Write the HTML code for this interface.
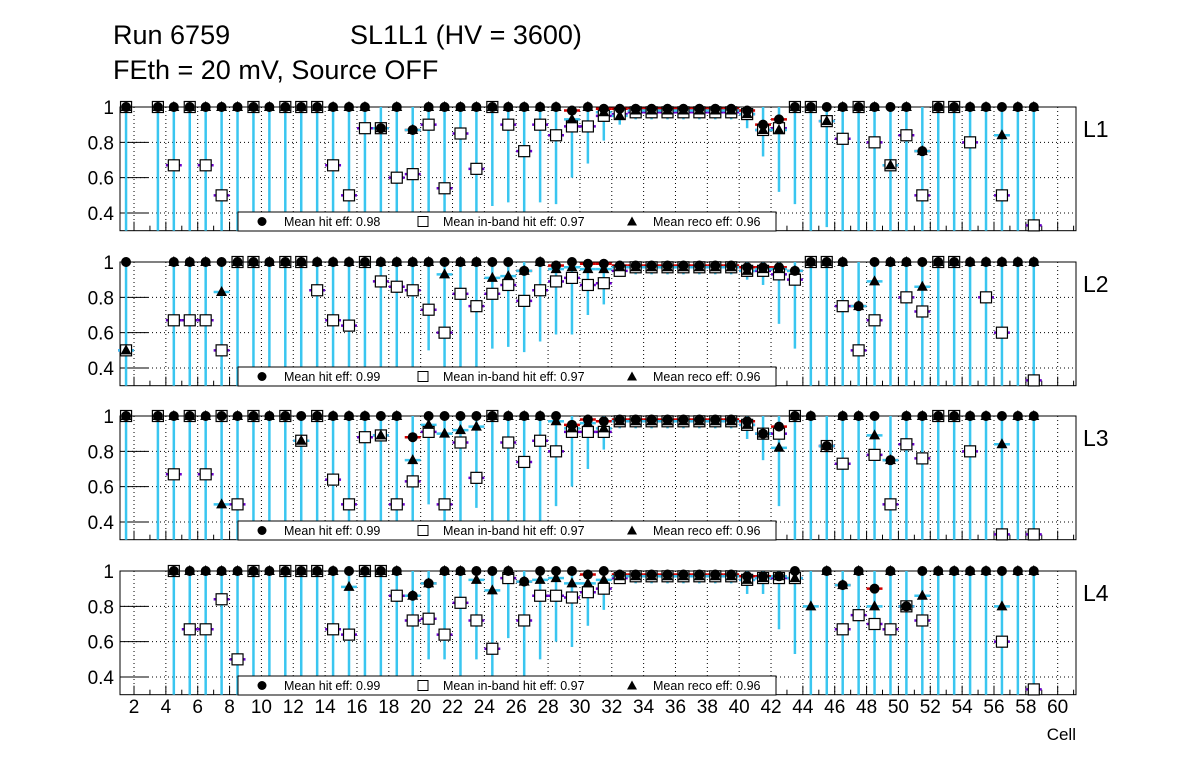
<!DOCTYPE html>
<html><head><meta charset="utf-8"><style>
body{margin:0;background:#fff;width:1196px;height:772px;overflow:hidden}
svg{display:block}
text{font-family:"Liberation Sans",sans-serif}
</style></head><body>
<svg id="c" width="1196" height="772" viewBox="0 0 1196 772">
<text x="113" y="44" font-size="27">Run 6759</text>
<text x="350" y="44" font-size="27">SL1L1 (HV = 3600)</text>
<text x="113" y="79" font-size="27">FEth = 20 mV, Source OFF</text>
<text x="1076" y="740" font-size="17" text-anchor="end">Cell</text>
</svg>
<script>
const panelNames=["L1","L2","L3","L4"];
const legendHit=["0.98","0.99","0.99","0.99"];
const legendInb=["0.97","0.97","0.97","0.97"];
const legendReco=["0.96","0.96","0.96","0.96"];
const xTicks=[2,4,6,8,10,12,14,16,18,20,22,24,26,28,30,32,34,36,38,40,42,44,46,48,50,52,54,56,58,60];
const yTicks=[1,0.8,0.6,0.4];
const yTickLabels=["1","0.8","0.6","0.4"];
const N=null;
const hit1=[1,N,1,1,1,1,1,1,1,1, 1,1,1,1,1,1,.88,1,.87,1, 1,1,1,1,1,1,1,1,.98,1, .99,.99,.99,.99,.99,.99,.99,.99,.99,.98, .9,.93,1,1,1,1,1,1,1,1, .75,1,1,1,1,1,1,1];
const inb1=[1,N,1,.67,1,.67,.5,N,1,N, 1,1,1,.67,.5,.88,.88,.6,.62,.9, .54,.85,.65,1,.9,.75,.9,.84,.89,.89, .95,.96,.97,.97,.97,.97,.97,.97,.97,.96, .87,.88,1,1,.92,.82,1,.8,.67,.84, .5,1,1,.8,N,.5,N,.33];
const reco1=[1,N,1,1,1,1,1,1,1,1, 1,1,1,1,1,1,.88,1,.87,1, 1,1,1,1,1,1,1,1,.93,1, .97,.95,.98,.98,.98,.98,.98,.98,.98,.96, .87,.87,1,1,.92,1,1,1,.67,1, .75,1,1,1,1,.84,1,1];
const lo1=[.3,N,.3,.3,.3,.3,.3,.3,.3,.3, .3,.3,.3,.3,.3,.3,.3,.3,.3,.3, .3,.3,.35,.44,.46,.3,.46,.45,.6,.68, .81,.9,.93,.93,.93,.93,.93,.93,.93,.88, .72,.52,.45,.3,.32,.3,.3,.3,.3,.3, .3,.3,.3,.3,.3,.3,.3,.3];
const hit2=[1,N,N,1,1,1,1,1,1,1, 1,1,1,1,1,1,1,1,1,1, 1,1,1,1,1,.95,1,.98,1,.99, .99,.98,.98,.98,.98,.98,.98,.98,.98,.97, .97,.97,.95,1,1,1,.75,1,1,1, 1,1,1,1,1,1,1,1];
const inb2=[.5,N,N,.67,.67,.67,.5,1,1,N, 1,1,.84,.67,.64,1,.89,.86,.84,.73, .6,.82,.75,.82,.87,.78,.84,.89,.91,.87, .88,.95,.97,.97,.97,.97,.97,.97,.97,.95, .95,.93,.9,1,1,.75,.5,.67,N,.8, .72,1,1,N,.8,.6,N,.33];
const reco2=[.5,N,N,1,1,1,.83,1,1,1, 1,1,1,1,1,1,1,1,1,1, .93,1,1,.91,.92,.95,1,.96,.97,.96, .96,.97,.97,.97,.97,.97,.97,.97,.97,.95, .96,.96,.95,1,1,1,.75,.89,1,1, .86,1,1,1,1,1,1,1];
const lo2=[.3,N,N,.3,.3,.3,.3,.3,.3,.3, .3,.3,.3,.3,.3,.3,.3,.3,.3,.5, .3,.3,.3,.51,.52,.49,.55,.59,.59,.7, .76,.93,.93,.93,.93,.93,.93,.93,.93,.9, .87,.65,.51,.3,.3,.3,.3,.3,.3,.3, .3,.3,.3,.3,.3,.3,.3,.3];
const hit3=[1,N,1,1,1,1,1,1,1,1, 1,1,1,1,1,1,1,1,.88,1, 1,1,1,1,1,1,1,1,.95,.98, .97,.98,.98,.98,.98,.98,.98,.98,.98,.97, .9,.94,1,1,.83,1,1,1,.75,1, 1,1,1,1,1,1,1,1];
const inb3=[1,N,1,.67,1,.67,1,.5,1,N, 1,.86,1,.64,.5,.88,.89,.5,.63,.91, .5,.85,.65,1,.85,.74,.86,.8,.91,.91, .91,.97,.97,.97,.97,.97,.97,.97,.97,.95, .9,.9,1,N,.83,.73,N,.78,.5,.84, .76,1,1,.8,N,.33,N,.33];
const reco3=[1,N,1,1,1,1,.5,1,1,1, 1,.86,1,1,1,1,.89,1,.75,.95, .9,.92,.94,1,1,1,1,.97,.93,.96, .93,.97,.97,.97,.97,.97,.97,.97,.97,.95, .9,.82,1,1,.83,1,1,.89,.75,1, 1,1,1,1,1,.84,1,1];
const lo3=[.3,N,.3,.3,.3,.3,.3,.3,.3,.3, .3,.3,.3,.3,.3,.3,.3,.3,.3,.5, .3,.3,.48,.3,.3,.3,.3,.49,.6,.7, .81,.93,.93,.93,.93,.93,.93,.93,.93,.87, .75,.49,.3,.3,.3,.3,.3,.3,.3,.3, .3,.3,.3,.3,.3,.3,.3,.3];
const hit4=[N,N,N,1,1,1,1,1,1,1, 1,1,1,1,1,1,1,1,.86,.93, 1,1,1,1,1,.94,1,1,1,.98, 1,.98,.98,.98,.98,.98,.98,.98,.98,.97, .97,.97,1,N,1,.92,1,.9,1,.8, 1,1,1,1,1,1,1,1];
const inb4=[N,N,N,1,.67,.67,.84,.5,1,N, 1,1,1,.67,.64,1,1,.86,.72,.73, .64,.82,.72,.56,.96,.72,.86,.86,.85,.88, .9,.96,.97,.97,.97,.97,.97,.97,.97,.95, .96,.96,.96,N,N,.67,.75,.7,.67,.8, .72,N,N,N,N,.6,N,.33];
const reco4=[N,N,N,1,1,1,1,1,1,1, 1,1,1,1,.91,1,1,1,.86,.93, 1,1,.95,.89,1,.94,.95,.96,.93,.93, .95,.97,.97,.97,.97,.97,.97,.97,.97,.95, .96,.97,.96,.8,1,.92,1,.8,1,.8, .86,1,1,1,1,.8,1,1];
const lo4=[N,N,N,.3,.3,.3,.3,.3,.3,.3, .3,.3,.3,.3,.3,.3,.3,.3,.3,.5, .5,.3,.5,.3,.62,.3,.5,.6,.57,.69, .78,.93,.93,.93,.93,.93,.93,.93,.93,.87, .87,.67,.53,.3,.3,.3,.3,.3,.3,.3, .3,.3,.3,.3,.3,.3,.3,.3];
const hits=[hit1,hit2,hit3,hit4], inbs=[inb1,inb2,inb3,inb4], recos=[reco1,reco2,reco3,reco4], los=[lo1,lo2,lo3,lo4];

const NS="http://www.w3.org/2000/svg";
const svg=document.getElementById('c');
const L=120,R=1076,X0=1.12,X1=61.15;
const panelTop=[107,262,416,571];
const BLUE="#3ac6f0",PURP="#6a00cc",RED="#d00000";
function xs(v){return L+(v-X0)/(X1-X0)*(R-L);}
function mk(tag,attrs,parent){const e=document.createElementNS(NS,tag);for(const k in attrs)e.setAttribute(k,attrs[k]);(parent||svg).appendChild(e);return e;}

panelNames.forEach((pn,p)=>{
  const top=panelTop[p];
  const ys=v=>top+(1-v)*176.7;
  const bot=ys(0.3);
  const g=mk('g',{});
  
  
  xTicks.forEach(t=>{const l=mk('line',{x1:xs(t),x2:xs(t),y1:top,y2:bot,stroke:'#000','stroke-width':1,'stroke-dasharray':'1,3'},g);
    });
  yTicks.forEach((t,i)=>{
    const l=mk('line',{x1:L,x2:R,y1:ys(t),y2:ys(t),stroke:'#000','stroke-width':1,'stroke-dasharray':'1,3'},g);
    
    const tk=mk('line',{x1:L,x2:L+28,y1:ys(t),y2:ys(t),stroke:'#000','stroke-width':1},g);
    
    const tx=mk('text',{x:L-6,y:ys(t)+7,'font-size':19,'text-anchor':'end'},g);tx.textContent=yTickLabels[i];
    
  });
  for(let t=2;t<=61;t++){const big=t%2===0;
    const tk=mk('line',{x1:xs(t),x2:xs(t),y1:bot,y2:bot-(big?9:5),stroke:'#000','stroke-width':1},g);
    }
  const fr=mk('rect',{x:L,y:top,width:R-L,height:bot-top,fill:'none',stroke:'#000','stroke-width':1},g);
  
  const hit=hits[p],inb=inbs[p],reco=recos[p],lo=los[p];
  const hw=(xs(2)-xs(1))*0.5;
  hit.forEach((h,i)=>{ if(lo[i]===null)return; const x=xs(i+1.5);
    const el=mk('line',{x1:x,x2:x,y1:ys(1),y2:ys(lo[i]),stroke:BLUE,'stroke-width':2.5},g);
    });
  hit.forEach((h,i)=>{const x=xs(i+1.5);
    if(h!==null&&h<1){const b=mk('line',{x1:x-hw,x2:x+hw,y1:ys(h),y2:ys(h),stroke:RED,'stroke-width':2.5},g);
      }
    if(inb[i]!==null&&inb[i]<1){const b=mk('line',{x1:x-hw,x2:x+hw,y1:ys(inb[i]),y2:ys(inb[i]),stroke:PURP,'stroke-width':2.5},g);
      }
    if(reco[i]!==null&&reco[i]<1){const b=mk('line',{x1:x-hw,x2:x+hw,y1:ys(reco[i]),y2:ys(reco[i]),stroke:BLUE,'stroke-width':2.5},g);
      }
  });
  inb.forEach((v,i)=>{if(v===null)return;const x=xs(i+1.5);
    const s=mk('rect',{x:x-5.5,y:ys(v)-5.5,width:11,height:11,fill:'#fff',stroke:'#000','stroke-width':1.2},g);
    });
  hit.forEach((v,i)=>{if(v===null)return;const x=xs(i+1.5);
    const c=mk('circle',{cx:x,cy:ys(v),r:5,fill:'#000'},g);
    });
  reco.forEach((v,i)=>{if(v===null)return;const x=xs(i+1.5),y=ys(v);
    const t=mk('polygon',{points:`${x},${y-6} ${x-5.5},${y+4} ${x+5.5},${y+4}`,fill:'#000'},g);
    });
  const lg=mk('g',{},g);
  
  mk('rect',{x:238,y:top+105,width:538,height:19,fill:'#fff',stroke:'#000','stroke-width':1},lg);
  const ly=top+114.5;
  mk('circle',{cx:262,cy:ly,r:4.5,fill:'#000'},lg);
  const t1=mk('text',{x:284,y:ly+4.5,'font-size':12.5},lg);t1.textContent='Mean hit  eff: '+legendHit[p];
  
  mk('rect',{x:418,y:ly-5,width:10,height:10,fill:'#fff',stroke:'#000'},lg);
  const t2=mk('text',{x:443,y:ly+4.5,'font-size':12.5},lg);t2.textContent='Mean in-band hit eff: '+legendInb[p];
  
  mk('polygon',{points:`632,${ly-5} 627,${ly+4} 637,${ly+4}`,fill:'#000'},lg);
  const t3=mk('text',{x:653,y:ly+4.5,'font-size':12.5},lg);t3.textContent='Mean reco eff: '+legendReco[p];
  
  const pl=mk('text',{x:1083,y:top+30,'font-size':23},g);pl.textContent=pn;
  
});
xTicks.forEach(t=>{const tx=mk('text',{x:xs(t),y:713,'font-size':19,'text-anchor':'middle'});tx.textContent=t;
  });
</script>
</body></html>
